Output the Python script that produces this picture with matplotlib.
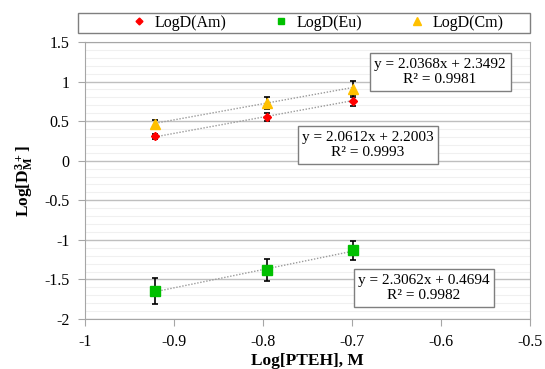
import matplotlib

matplotlib.use("Agg")
import matplotlib.pyplot as plt
import numpy as np
from matplotlib.lines import Line2D
from matplotlib.patches import Rectangle
from matplotlib.ticker import MultipleLocator

plt.rcParams.update({
    "font.family": "Liberation Serif",
    "mathtext.fontset": "custom",
    "mathtext.rm": "Liberation Serif",
    "mathtext.bf": "Liberation Serif:bold",
})

# log of extractant concentration
log_pteh = [-0.921, -0.796, -0.699]

am = [0.31, 0.55, 0.76]
am_err = [0.03, 0.05, 0.07]
eu = [-1.65, -1.38, -1.13]
eu_err = [0.165, 0.14, 0.12]
cm = [0.47, 0.73, 0.91]
cm_err = [0.05, 0.08, 0.10]

# trendline coefficients as printed on the chart
fits = {
    "Am": (2.0612, 2.2003, 0.9993),
    "Eu": (2.3062, 0.4694, 0.9982),
    "Cm": (2.0368, 2.3492, 0.9981),
}
label_pos = {"Cm": (-0.601, 1.12), "Am": (-0.682, 0.20), "Eu": (-0.619, -1.608)}

GRID, FRAME = "#BFBFBF", "#A6A6A6"
RED, GREEN, GOLD = "#FF0000", "#00C000", "#FFC000"

fig = plt.figure(figsize=(5.45, 3.69), dpi=100)
ax = fig.add_axes([85 / 545, 1 - 319 / 369, 445 / 545, 277 / 369])

ax.set_xlim(-1, -0.5)
ax.set_ylim(-2, 1.5)
ax.yaxis.set_major_locator(MultipleLocator(0.5))
ax.yaxis.set_minor_locator(MultipleLocator(0.1))
ax.xaxis.set_major_locator(MultipleLocator(0.1))
ax.grid(axis="y", which="major", color=GRID, lw=1.0, zorder=0)
ax.grid(axis="y", which="minor", color="#F0F0F0", lw=0.8, zorder=0)
ax.set_axisbelow(True)
for s in ax.spines.values():
    s.set_color(FRAME)
ax.tick_params(which="major", direction="out", length=5, color=FRAME, labelsize=11.5, pad=6)
ax.tick_params(which="minor", length=0)
ax.xaxis.set_major_formatter(lambda v, p: f"{v:g}")
ax.yaxis.set_major_formatter(lambda v, p: f"{v:g}")

xs = np.array([min(log_pteh), max(log_pteh)])
for key in ("Am", "Eu", "Cm"):
    k, b, r2 = fits[key]
    ax.plot(xs, k * xs + b, ls=(0, (1, 1.2)), color="#9A9A9A", lw=1.0, zorder=2)
    tx, ty = label_pos[key]
    ax.text(tx, ty, f"y = {k:.4f}x + {b:.4f}\nR² = {r2:.4f}", ha="center", va="center",
            multialignment="center", fontsize=11, linespacing=1.25, zorder=5,
            bbox=dict(boxstyle="square,pad=0.3", fc="white", ec="#7F7F7F", lw=1.0))

ax.errorbar(log_pteh, am, yerr=am_err, fmt="D", color=RED, ms=4, ecolor="black",
            elinewidth=1.2, capsize=2.5, capthick=1.2, zorder=4)
ax.errorbar(log_pteh, eu, yerr=eu_err, fmt="s", color=GREEN, ms=6.5, ecolor="black",
            elinewidth=1.2, capsize=2.5, capthick=1.2, zorder=4)
ax.errorbar(log_pteh, cm, yerr=cm_err, fmt="^", color=GOLD, ms=7, ecolor="black",
            elinewidth=1.2, capsize=2.5, capthick=1.2, zorder=4)

ax.set_xlabel("Log[PTEH], M", fontsize=12.5, fontweight="bold", labelpad=2)
ax.set_ylabel(r"$\mathbf{Log[D_{M}^{3+}]}$", fontsize=12.5, labelpad=6)

# legend on top of the plot
fig.patches.append(Rectangle((78 / 545, 1 - 33 / 369), 452 / 545, 20 / 369,
                             transform=fig.transFigure, fill=False, ec="#7F7F7F", lw=1.0))
handles = [
    Line2D([], [], ls="none", marker="D", color=RED, ms=3.5),
    Line2D([], [], ls="none", marker="s", color=GREEN, ms=5),
    Line2D([], [], ls="none", marker="^", color=GOLD, ms=6),
]
fig.legend(handles, ["LogD(Am)", "LogD(Eu)", "LogD(Cm)"], ncol=3, frameon=False,
           loc="center", bbox_to_anchor=(318 / 545, 1 - 23 / 369), fontsize=11.5,
           handlelength=0.8, handletextpad=0.6, columnspacing=3.0)

fig.savefig("out.png", dpi=100)
